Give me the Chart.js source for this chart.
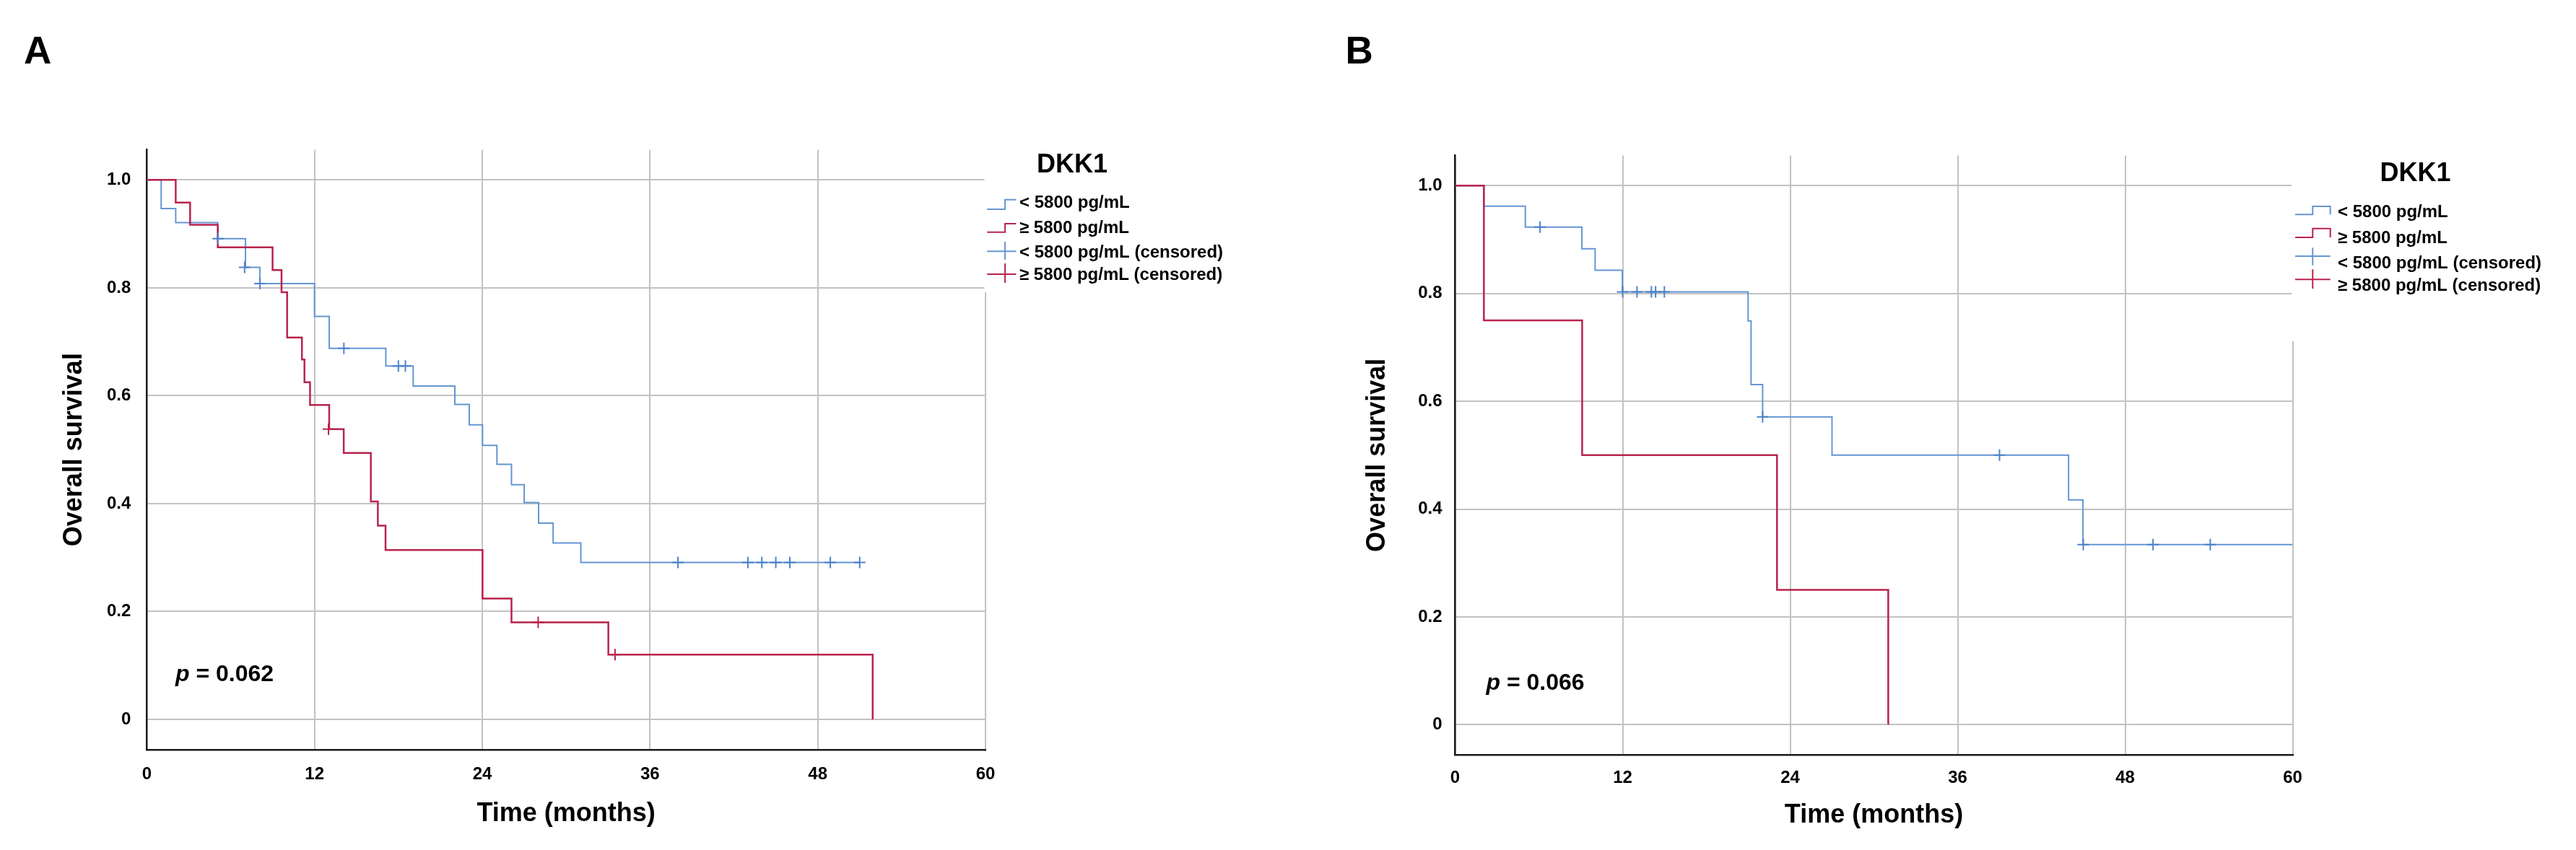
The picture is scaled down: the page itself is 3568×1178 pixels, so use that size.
<!DOCTYPE html>
<html>
<head>
<meta charset="utf-8">
<script src="https://cdn.jsdelivr.net/npm/chart.js@4.4.1/dist/chart.umd.min.js"></script>
<style>
html,body{margin:0;padding:0;background:#fff;width:3568px;height:1178px;overflow:hidden}
canvas{position:absolute;top:0}
#cA{left:0}
#cB{left:1784px}
</style>
</head>
<body>
<canvas id="cA" width="1784" height="1178"></canvas>
<canvas id="cB" width="1784" height="1178"></canvas>
<script>
// ---------- shared axis / legend text ----------
const xTickValues = [0, 12, 24, 36, 48, 60];
const yTickValues = [0, 0.2, 0.4, 0.6, 0.8, 1.0];
const yTickLabels = ['0', '0.2', '0.4', '0.6', '0.8', '1.0'];
const xTitle = 'Time (months)';
const yTitle = 'Overall survival';
const legendTitle = 'DKK1';
const seriesNames = ['< 5800 pg/mL', '≥ 5800 pg/mL', '< 5800 pg/mL (censored)', '≥ 5800 pg/mL (censored)'];

// ---------- Panel A ----------
const aLowTime = [0, 1.03, 2.07, 5.08, 7.06, 8.09, 12.0, 13.05, 17.1, 19.06, 22.04, 23.07, 24.02, 25.05, 26.09, 27.0, 28.03, 29.07, 31.05, 51.0];
const aLowSurv = [1, 0.947, 0.921, 0.891, 0.838, 0.808, 0.747, 0.688, 0.655, 0.618, 0.584, 0.546, 0.508, 0.473, 0.435, 0.402, 0.364, 0.327, 0.291, 0.291];
const aLowCensTime = [5.1, 7.0, 8.1, 14.1, 18.0, 18.5, 38.0, 43.0, 44.0, 45.0, 46.0, 48.9, 51.0];
const aLowCensSurv = [0.891, 0.838, 0.808, 0.688, 0.655, 0.655, 0.291, 0.291, 0.291, 0.291, 0.291, 0.291, 0.291];
const aHighTime = [0, 2.07, 3.1, 5.08, 9.0, 9.64, 10.04, 11.1, 11.28, 11.68, 13.05, 14.09, 16.03, 16.53, 17.08, 24.02, 26.09, 33.02, 51.93];
const aHighSurv = [1, 0.958, 0.917, 0.875, 0.833, 0.792, 0.708, 0.667, 0.625, 0.583, 0.538, 0.494, 0.404, 0.359, 0.314, 0.224, 0.180, 0.120, 0];
const aHighCensTime = [13.0, 28.0, 33.5];
const aHighCensSurv = [0.538, 0.180, 0.120];
const aPText = '0.062';

// ---------- Panel B ----------
const bLowTime = [0, 2.06, 5.03, 9.08, 10.03, 11.98, 20.99, 21.2, 22.03, 27.0, 43.95, 44.98, 60];
const bLowSurv = [1, 0.962, 0.923, 0.883, 0.843, 0.803, 0.749, 0.631, 0.571, 0.500, 0.417, 0.334, 0.334];
const bLowCensTime = [6.08, 12.0, 13.03, 14.06, 14.36, 14.99, 22.03, 39.0, 45.0, 50.0, 54.1];
const bLowCensSurv = [0.923, 0.803, 0.803, 0.803, 0.803, 0.803, 0.571, 0.500, 0.334, 0.334, 0.334];
const bHighTime = [0, 2.06, 9.1, 23.06, 31.03];
const bHighSurv = [1, 0.75, 0.5, 0.25, 0];
const bHighCensTime = [];
const bHighCensSurv = [];
const bPText = '0.066';

// ---------- styling ----------
const FONT = '"Liberation Sans", Arial, sans-serif';
const BLUE = '#6496d2';
const BLUE_MARK = '#4d83c9';
const RED = '#b8234d';
const GRID = '#c2c2c2';

function pts(t, s) { return t.map((v, i) => ({ x: v, y: s[i] })); }

const kmDecor = {
  id: 'kmDecor',
  beforeDatasetsDraw(chart, args, o) {
    const ctx = chart.ctx, ca = chart.chartArea;
    ctx.save();
    ctx.fillStyle = '#fff';
    ctx.fillRect(ca.right - 1.5, 0, chart.width - ca.right + 1.5, o.boxBottom);
    ctx.restore();
  },
  afterDraw(chart, args, o) {
    const ctx = chart.ctx;
    ctx.save();
    ctx.fillStyle = '#000';
    ctx.textAlign = 'left';
    ctx.textBaseline = 'alphabetic';
    // panel letter
    ctx.font = 'bold 53px ' + FONT;
    ctx.fillText(o.letter, o.letterX, o.letterY);
    // legend title
    ctx.font = 'bold 36px ' + FONT;
    ctx.fillText(legendTitle, o.titleX, o.titleY);
    // legend rows
    ctx.font = 'bold 24px ' + FONT;
    const ix = o.iconX;
    o.rows.forEach((r, i) => {
      ctx.fillStyle = '#000';
      ctx.fillText(seriesNames[i], o.textX, r.base);
      ctx.strokeStyle = (i % 2 === 0) ? BLUE : RED;
      ctx.lineWidth = 2;
      ctx.beginPath();
      if (i < 2) {
        ctx.moveTo(ix[0], r.low);
        ctx.lineTo(ix[1], r.low);
        ctx.lineTo(ix[1], r.high);
        ctx.lineTo(ix[2], r.high);
        if (o.boxIcon) ctx.lineTo(ix[2], r.low);
      } else {
        ctx.moveTo(ix[0], r.mid);
        ctx.lineTo(ix[2], r.mid);
        ctx.moveTo(ix[1], r.top);
        ctx.lineTo(ix[1], r.bot);
      }
      ctx.stroke();
    });
    // p value
    ctx.fillStyle = '#000';
    ctx.font = 'italic bold 32px ' + FONT;
    ctx.fillText('p', o.pX, o.pY);
    const w = ctx.measureText('p').width;
    ctx.font = 'bold 32px ' + FONT;
    ctx.fillText(' = ' + o.pText, o.pX + w, o.pY);
    ctx.restore();
  }
};

function makeChart(id, d, L) {
  return new Chart(document.getElementById(id), {
    type: 'line',
    data: {
      datasets: [
        { label: seriesNames[2], type: 'scatter', data: pts(d.lowCT, d.lowCS), showLine: false,
          pointStyle: 'cross', pointRadius: 8, pointBorderWidth: 2, borderColor: BLUE_MARK, backgroundColor: BLUE_MARK, order: 0 },
        { label: seriesNames[3], type: 'scatter', data: pts(d.highCT, d.highCS), showLine: false,
          pointStyle: 'cross', pointRadius: 8, pointBorderWidth: 2, borderColor: RED, backgroundColor: RED, order: 0 },
        { label: seriesNames[1], data: pts(d.highT, d.highS), stepped: true, borderColor: RED, borderWidth: 2.5,
          pointRadius: 0, fill: false, order: 1 },
        { label: seriesNames[0], data: pts(d.lowT, d.lowS), stepped: true, borderColor: BLUE, borderWidth: 2,
          pointRadius: 0, fill: false, order: 2 }
      ]
    },
    options: {
      responsive: false,
      animation: false,
      devicePixelRatio: 1,
      layout: { padding: { left: L.padL, right: L.padR, top: L.padT, bottom: L.padB } },
      plugins: {
        legend: { display: false },
        tooltip: { enabled: false },
        kmDecor: L.decor
      },
      scales: {
        x: {
          type: 'linear', min: 0, max: 60,
          afterBuildTicks: s => { s.ticks = xTickValues.map(v => ({ value: v })); },
          afterFit: s => { s.height = L.xH; },
          grid: { color: GRID, lineWidth: 2, drawTicks: false },
          border: { display: true, color: '#1a1a1a', width: 2.5 },
          ticks: { color: '#000', font: { family: FONT, size: 24, weight: 'bold' }, padding: L.xTickPad,
                   maxRotation: 0, autoSkip: false, callback: (v) => String(v) },
          title: { display: true, text: xTitle, color: '#000', font: { family: FONT, size: 36, weight: 'bold' },
                   padding: { top: 0, bottom: L.xTitlePad } }
        },
        y: {
          type: 'linear', min: -0.056, max: 1.056,
          afterBuildTicks: s => { s.ticks = yTickValues.map(v => ({ value: v })); },
          afterFit: s => { s.width = L.yW; },
          grid: { color: GRID, lineWidth: 2, drawTicks: false },
          border: { display: true, color: '#1a1a1a', width: 2.5 },
          ticks: { color: '#000', font: { family: FONT, size: 24, weight: 'bold' }, padding: L.yTickPad,
                   autoSkip: false, callback: (v, i) => yTickLabels[i] },
          title: { display: true, text: yTitle, color: '#000', font: { family: FONT, size: 36, weight: 'bold' },
                   padding: { top: L.yTitlePad, bottom: 0 } }
        }
      }
    },
    plugins: [kmDecor]
  });
}

makeChart('cA',
  { lowT: aLowTime, lowS: aLowSurv, lowCT: aLowCensTime, lowCS: aLowCensSurv,
    highT: aHighTime, highS: aHighSurv, highCT: aHighCensTime, highCS: aHighCensSurv },
  { padL: 70, padR: 419, padT: 207.5, padB: 20, yW: 133.3, xH: 119.1,
    xTickPad: 20, yTickPad: 22, xTitlePad: 8.4, yTitlePad: 11.7,
    decor: {
      boxBottom: 405, letter: 'A', letterX: 33, letterY: 87.5,
      titleX: 1436, titleY: 239.3, textX: 1412, iconX: [1367.2, 1392.1, 1407.4], boxIcon: false,
      rows: [
        { base: 288.3, low: 290, high: 276.7 },
        { base: 323.3, low: 321.7, high: 310 },
        { base: 356.7, mid: 348.3, top: 335, bot: 360 },
        { base: 388.3, mid: 380, top: 365, bot: 392 }
      ],
      pX: 243, pY: 944, pText: aPText
    } });

makeChart('cB',
  { lowT: bLowTime, lowS: bLowSurv, lowCT: bLowCensTime, lowCS: bLowCensSurv,
    highT: bHighTime, highS: bHighSurv, highCT: bHighCensTime, highCS: bHighCensSurv },
  { padL: 90, padR: 392.5, padT: 215.4, padB: 20, yW: 141.5, xH: 111.8,
    xTickPad: 18, yTickPad: 18, xTitlePad: 6.4, yTitlePad: 12.1,
    decor: {
      boxBottom: 473, letter: 'B', letterX: 79.5, letterY: 87.5,
      titleX: 1512.6, titleY: 250.7, textX: 1454, iconX: [1395, 1419.3, 1443.7], boxIcon: true,
      rows: [
        { base: 300.7, low: 297.3, high: 286 },
        { base: 336.7, low: 329, high: 316.7 },
        { base: 371.7, mid: 355, top: 343.3, bot: 367.7 },
        { base: 402.7, mid: 387.3, top: 373.3, bot: 400 }
      ],
      pX: 274.5, pY: 955.5, pText: bPText
    } });
</script>
</body>
</html>
